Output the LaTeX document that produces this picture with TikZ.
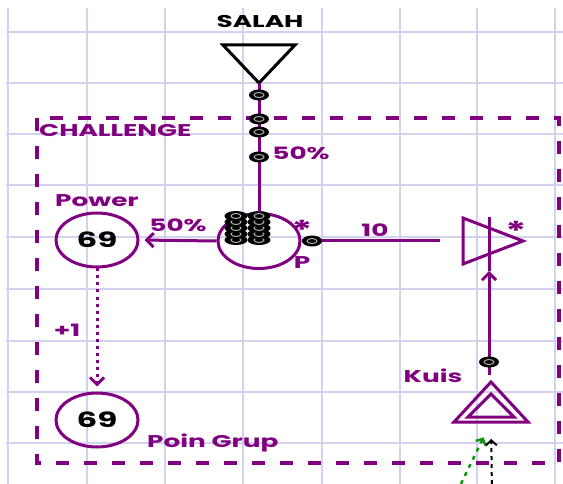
\documentclass[tikz,border=0pt]{standalone}
\usepackage{fontspec}
\setmainfont{Poppins}[FakeStretch=1.55]
\usetikzlibrary{positioning,arrows.meta,shapes.geometric}
\definecolor{mpurple}{RGB}{128,0,128}
\definecolor{gridblue}{RGB}{210,210,238}
\definecolor{mgreen}{RGB}{20,150,20}

\begin{document}
\begin{tikzpicture}[
x=1pt,y=-1pt,
>={Straight Barb[length=7pt,width=14pt]},
lbl/.style={text=mpurple,inner sep=0pt,font=\bfseries\fontsize{17}{17}\selectfont},
starlbl/.style={text=mpurple,inner sep=0pt,font=\bfseries\fontsize{26}{26}\selectfont},
val/.style={draw=mpurple,line width=3pt,ellipse,minimum width=82pt,minimum height=54pt,
font=\bfseries\fontsize{21}{21}\selectfont},
token/.style={ellipse,fill=black,inner sep=0pt,minimum width=20pt,minimum height=11pt,
path picture={\draw[gray!60,line width=1pt] (path picture bounding box.center) ellipse (5pt and 2.5pt);}},
stack/.style={token,minimum width=23pt,minimum height=10pt},
res/.style={draw=mpurple,line width=3pt},
dotline/.style={line width=3pt,dash pattern=on 3pt off 4pt}
]

\fill[white] (0,0) rectangle (563,484);
\useasboundingbox (0,0) rectangle (563,484);
\foreach \x in {8,87,165,243,322,400,477,555}
  \draw[gridblue,line width=1.6pt] (\x,8) -- (\x,484);
\foreach \y in {32,83,134,185,237,289,341,392,443}
  \draw[gridblue,line width=1.6pt] (6,\y) -- (563,\y);

\draw[mpurple,line width=3.5pt,dash pattern=on 13pt off 15pt] (37,118) rectangle (559,463);
\node[lbl,anchor=west] (challenge) at (39,131) {CHALLENGE};

\coordinate (salah) at (259,83);
\draw[line width=3pt] (salah) -- ++(-36,-38) -- ++(72,0) -- cycle;
\node[inner sep=0pt,font=\bfseries\fontsize{17}{17}\selectfont] (salahlbl) at (260,22) {SALAH};

\node[draw=mpurple,line width=3pt,ellipse,minimum width=82pt,minimum height=55pt] (pool) at (259,241) {};
\foreach \y [count=\i] in {240,234,228,222,216} {
  \node[stack] (sa\i) at (236,\y) {};
  \node[stack] (sb\i) at (259,\y) {};
}
\node[starlbl] (poolstar) at (302,230) {*};
\node[lbl] (poolp) at (302,263) {P};

\draw[res] (salah) -- (pool.north);
\foreach \y [count=\i] in {95,119,132,157}
  \node[token] (drop\i) at (259,\y) {};
\node[lbl] (inrate) at (301,153) {50\%};

\node[val] (power) at (97,240) {69};
\node[lbl,above=5pt of power] (powerlbl) {Power};
\draw[res,->,shorten >=5pt] (pool.west) -- (power.east)
  node[lbl,midway,above=7pt] (outrate) {50\%};

\node[val] (poin) at (97,420) {69};
\node[lbl,anchor=west] (poinlbl) at (147,443) {Poin Grup};
\draw[mpurple,dotline,->,shorten >=5pt] (power) -- (poin);
\node[lbl] (plusone) at (67,330) {+1};

\coordinate (gate) at (463,241);
\draw[res] (gate) ++(0,-23) -- ++(60,23) -- ++(-60,23) -- cycle;
\node[starlbl] (gatestar) at (516,231) {*};
\draw[res,shorten >=23pt] (pool.east) -- (gate);
\node[token] (outtok) at (312,241) {};
\node[lbl] (outnum) at (375,230) {10};

\coordinate (kuis) at (491,422);
\draw[res] (kuis) ++(-37,0) -- ++(37,-40) -- ++(37,40) -- cycle;
\draw[res] (kuis) ++(-23,-5) -- ++(23,-23) -- ++(23,23) -- cycle;
\node[lbl] (kuislbl) at (433,376) {Kuis};

\coordinate (gatein) at (489,271);
\coordinate (gatetop) at (489,217);
\draw[res,->] (489,375) -- (gatein);
\draw[res] (gatein) -- (gatetop);
\node[token] (kuistok) at (489,362) {};

\coordinate (greenfrom) at (457,492);
\coordinate (blackfrom) at (492,492);
\draw[mgreen,line width=2.5pt,dash pattern=on 4pt off 5pt,
  -{Straight Barb[length=5pt,width=11pt]},shorten >=17pt] (greenfrom) -- (kuis);
\draw[black,line width=2pt,dash pattern=on 4pt off 4pt,
  -{Straight Barb[length=5pt,width=11pt]},shorten >=17pt] (blackfrom) -- (kuis);

\end{tikzpicture}
\end{document}
